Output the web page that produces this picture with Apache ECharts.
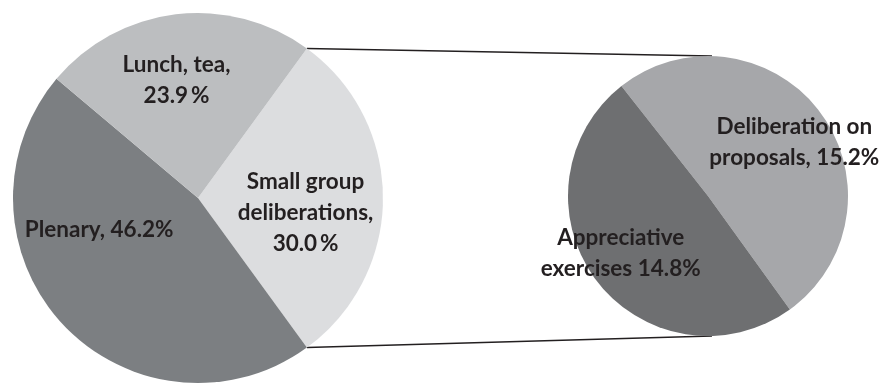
<!DOCTYPE html>
<html><head><meta charset="utf-8">
<script src="https://cdn.jsdelivr.net/npm/echarts@6/dist/echarts.min.js"></script>
<style>html,body{margin:0;padding:0;background:#fff}#c{width:880px;height:385px}</style>
</head><body><div id="c"></div>
<script>
// Main pie (ordered clockwise starting from the "bar of pie" split)
const mainNames = ['Small group\ndeliberations,', 'Plenary,', 'Lunch, tea,'];
const mainValues = [30.0, 46.2, 23.9];
const mainPctText = ['30.0\u2009%', '46.2%', '23.9\u2009%'];
const mainColors = ['#dcdddf', '#7c7f82', '#bcbec0'];
// Secondary pie (breakdown of small group deliberations)
const subNames = ['Deliberation on\nproposals,', 'Appreciative\nexercises'];
const subValues = [15.2, 14.8];
const subPctText = ['15.2%', '14.8%'];
const subColors = ['#a6a7aa', '#6e6f71'];

const C1 = [198, 198], R1 = 185;
const C2 = [708, 196], R2 = 140;
const total1 = mainValues.reduce((a, b) => a + b, 0);
const splitAngle = mainValues[0] / total1 * 360; // small group slice span
const start1 = splitAngle / 2;
const start2 = 128.2;

const font = { fontFamily: 'Lato', fontWeight: 'bold', fontSize: 22.5, color: '#231f20', lineHeight: 31 };
const mainOffsets = [[12, 15], [-29, -33], [-10, -23]];
const subOffsets = [[28, -10], [-29, 13]];

function labelText(name, pct, i) {
  if (i === 1) return name + ' ' + pct;
  return name + '\n' + pct;
}

const chart = echarts.init(document.getElementById('c'), null, { renderer: 'canvas' });

const a1 = start1 * Math.PI / 180;
const p1 = [C1[0] + R1 * Math.cos(a1), C1[1] - R1 * Math.sin(a1)];
const p2 = [C1[0] + R1 * Math.cos(a1), C1[1] + R1 * Math.sin(a1)];
const q1 = [C2[0] + 4, C2[1] - R2];
const q2 = [C2[0] + 4, C2[1] + R2];

chart.setOption({
  animation: false,
  backgroundColor: '#fff',
  series: [
    {
      type: 'pie', center: C1, radius: [0, R1], startAngle: start1, clockwise: true,
      avoidLabelOverlap: false, silent: true,
      data: mainValues.map((v, i) => ({
        value: v, name: mainNames[i],
        itemStyle: { color: mainColors[i] },
        label: Object.assign({ show: true, position: 'inside', offset: mainOffsets[i], align: 'center',
          formatter: labelText(mainNames[i], mainPctText[i], i) }, font)
      })),
      labelLine: { show: false }
    },
    {
      type: 'pie', center: C2, radius: [0, R2], startAngle: start2, clockwise: true,
      avoidLabelOverlap: false, silent: true,
      data: subValues.map((v, i) => ({
        value: v, name: subNames[i],
        itemStyle: { color: subColors[i] },
        label: Object.assign({ show: true, position: 'inside', offset: subOffsets[i], align: 'center',
          formatter: subNames[i] + ' ' + subPctText[i] }, font)
      })),
      labelLine: { show: false }
    }
  ],
  graphic: [
    { type: 'line', shape: { x1: p1[0], y1: p1[1], x2: q1[0], y2: q1[1] }, style: { stroke: '#231f20', lineWidth: 1.5 } },
    { type: 'line', shape: { x1: p2[0], y1: p2[1], x2: q2[0], y2: q2[1] }, style: { stroke: '#231f20', lineWidth: 1.5 } }
  ]
});
</script></body></html>
